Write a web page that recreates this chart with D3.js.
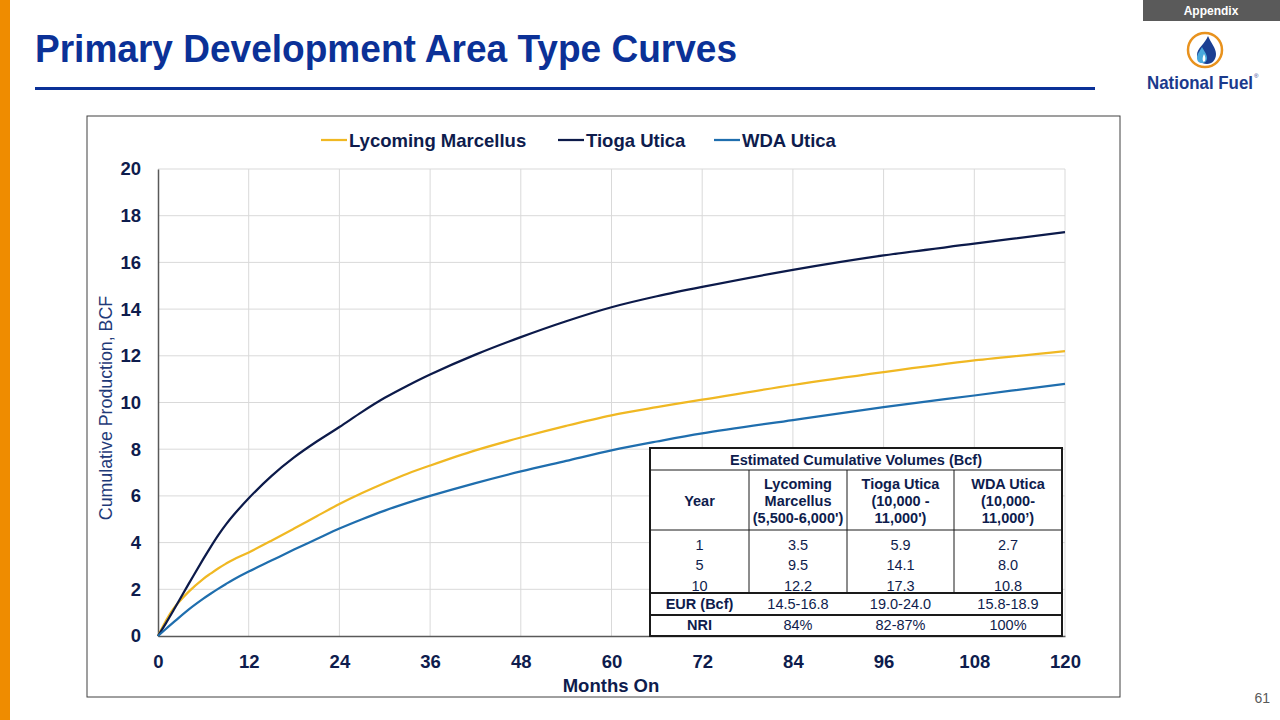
<!DOCTYPE html>
<html lang="en">
  <head>
    <title>Primary Development Area Type Curves</title>
    <script src="https://d3js.org/d3.v7.min.js"></script>
    <style>
      body { margin: 0; background: #fff; }
      svg { font-family: "Liberation Sans", Arial, sans-serif; display: block; }
      .grid line { stroke: #d9d9d9; stroke-width: 1; }
      .tick-label { font-size: 18.5px; font-weight: bold; fill: #0e1c4d; }
    </style>
  </head>
  <body>
    <svg width="1280" height="720"></svg>

    <script>
      // series data (months on, cumulative Bcf)
      var months    = [0, 1, 2, 4, 6, 7, 8, 9, 10, 12, 15, 18, 21, 24, 27, 30, 33, 36, 42, 48, 54, 60, 66, 72, 84, 96, 108, 120];
      var lycoming  = [0, 0.62, 1.15, 1.88, 2.45, 2.68, 2.9, 3.1, 3.28, 3.58, 4.08, 4.6, 5.13, 5.65, 6.12, 6.55, 6.95, 7.3, 7.95, 8.5, 9.0, 9.45, 9.8, 10.12, 10.75, 11.3, 11.8, 12.2];
      var tioga     = [0, 0.52, 1.07, 2.2, 3.3, 3.83, 4.33, 4.78, 5.18, 5.9, 6.85, 7.65, 8.33, 8.95, 9.6, 10.2, 10.72, 11.2, 12.05, 12.8, 13.48, 14.08, 14.55, 14.95, 15.68, 16.3, 16.8, 17.3];
      var wda       = [0, 0.29, 0.57, 1.12, 1.6, 1.82, 2.03, 2.23, 2.42, 2.76, 3.23, 3.7, 4.15, 4.6, 5.0, 5.37, 5.7, 6.0, 6.55, 7.05, 7.5, 7.95, 8.33, 8.68, 9.25, 9.8, 10.3, 10.8];

      var seriesNames  = ["Lycoming Marcellus", "Tioga Utica", "WDA Utica"];
      var seriesColors = ["#f0b823", "#0c1a4a", "#1f6eae"];
      var seriesValues = [lycoming, tioga, wda];

      var xTicks = [0, 12, 24, 36, 48, 60, 72, 84, 96, 108, 120];
      var yTicks = [0, 2, 4, 6, 8, 10, 12, 14, 16, 18, 20];

      // table contents
      var tableTitle   = "Estimated Cumulative Volumes (Bcf)";
      var tableHeader  = [["Year"], ["Lycoming", "Marcellus", "(5,500-6,000')"], ["Tioga Utica", "(10,000 -", "11,000')"], ["WDA Utica", "(10,000-", "11,000\u2019)"]];
      var tableYears   = ["1", "5", "10"];
      var tableLyc     = ["3.5", "9.5", "12.2"];
      var tableTioga   = ["5.9", "14.1", "17.3"];
      var tableWda     = ["2.7", "8.0", "10.8"];
      var eurRow       = ["EUR (Bcf)", "14.5-16.8", "19.0-24.0", "15.8-18.9"];
      var nriRow       = ["NRI", "84%", "82-87%", "100%"];

      var svg = d3.select("svg");
      var navy = "#0e1c4d";

      // ---- slide furniture ----
      svg.append("rect").attr("x", 0).attr("y", 0).attr("width", 10).attr("height", 720).attr("fill", "#ef8c00");

      svg.append("text").attr("x", 35).attr("y", 62)
         .attr("font-size", 38).attr("font-weight", "bold").attr("fill", "#0b3197")
         .attr("textLength", 702).attr("lengthAdjust", "spacingAndGlyphs")
         .text("Primary Development Area Type Curves");
      svg.append("rect").attr("x", 35).attr("y", 87).attr("width", 1060).attr("height", 3).attr("fill", "#0b3197");

      svg.append("rect").attr("x", 1143).attr("y", 0).attr("width", 137).attr("height", 21).attr("fill", "#5a5a5a");
      svg.append("text").attr("x", 1211).attr("y", 15).attr("text-anchor", "middle")
         .attr("font-size", 12).attr("font-weight", "bold").attr("fill", "#fff").text("Appendix");

      // logo
      var logo = svg.append("g").attr("transform", "translate(1205,50)");
      logo.append("circle").attr("r", 17).attr("fill", "#fff").attr("stroke", "#e8921e").attr("stroke-width", 2.5);
      logo.append("path").attr("fill", "#1b3f93")
          .attr("d", "M3,-14 C6,-7 11,-2 11,4 C11,10 7,14 2,14 C-4,14 -8,10 -8,5 C-8,-2 0,-6 3,-14 Z");
      logo.append("path").attr("fill", "#4aa8dc")
          .attr("d", "M-3,-3 C-1,1 2,4 2,8 C2,11 0,13 -3,13 C-6,13 -8,11 -8,8 C-8,4 -5,1 -3,-3 Z");
      logo.append("path").attr("fill", "#fff")
          .attr("d", "M-1,4 C0,6 1,8 0,11 C-1,12 -2,12 -2,11 C-3,9 -2,6 -1,4 Z");
      var brand = svg.append("text").attr("x", 1147).attr("y", 89)
         .attr("font-size", 19).attr("font-weight", "bold").attr("fill", "#1b3a8c");
      brand.append("tspan").attr("textLength", 106).attr("lengthAdjust", "spacingAndGlyphs").text("National Fuel");
      brand.append("tspan").attr("font-size", 6).attr("font-weight", "normal").attr("dx", 1).attr("dy", -11).text("\u00ae");

      svg.append("text").attr("x", 1270).attr("y", 703).attr("text-anchor", "end")
         .attr("font-size", 14).attr("fill", "#595959").text("61");

      // chart frame
      svg.append("rect").attr("x", 87).attr("y", 116).attr("width", 1033).attr("height", 581)
         .attr("fill", "#fff").attr("stroke", "#404040").attr("stroke-width", 1);

      // ---- scales ----
      var x = d3.scaleLinear().domain([0, 120]).range([158, 1065]);
      var y = d3.scaleLinear().domain([0, 20]).range([636, 169]);

      var grid = svg.append("g").attr("class", "grid");
      grid.selectAll("line.h").data(yTicks.slice(1)).enter().append("line")
          .attr("x1", x(0)).attr("x2", x(120))
          .attr("y1", function(d){ return y(d); }).attr("y2", function(d){ return y(d); });
      grid.selectAll("line.v").data(xTicks.slice(1)).enter().append("line")
          .attr("y1", y(0)).attr("y2", y(20))
          .attr("x1", function(d){ return x(d); }).attr("x2", function(d){ return x(d); });

      // axes with d3 axis generators, then restyled
      var xAxis = svg.append("g").attr("transform", "translate(0," + y(0) + ")")
          .call(d3.axisBottom(x).tickValues(xTicks).tickSize(0).tickPadding(19));
      xAxis.select(".domain").attr("stroke", "#595959").attr("stroke-width", 1.5);
      xAxis.selectAll("text").attr("class", "tick-label").attr("font-family", null).attr("font-size", null);

      var yAxis = svg.append("g").attr("transform", "translate(" + x(0) + ",0)")
          .call(d3.axisLeft(y).tickValues(yTicks).tickSize(0).tickPadding(17));
      yAxis.select(".domain").attr("stroke", "#595959").attr("stroke-width", 1.5);
      yAxis.selectAll("text").attr("class", "tick-label").attr("font-family", null).attr("font-size", null);

      svg.append("text").attr("x", 611).attr("y", 692).attr("text-anchor", "middle")
         .attr("font-size", 18.5).attr("font-weight", "bold").attr("fill", navy).text("Months On");
      svg.append("text").attr("transform", "translate(112,408) rotate(-90)").attr("text-anchor", "middle")
         .attr("font-size", 17.8).attr("fill", "#1f3a78").text("Cumulative Production, BCF");

      // ---- lines ----
      var line = d3.line()
          .x(function(d){ return x(d[0]); })
          .y(function(d){ return y(d[1]); })
          .curve(d3.curveCatmullRom.alpha(0.5));

      svg.append("g").selectAll("path").data(seriesValues).enter().append("path")
         .attr("fill", "none")
         .attr("stroke", function(d, i){ return seriesColors[i]; })
         .attr("stroke-width", 2.25)
         .attr("d", function(vals){ return line(months.map(function(m, j){ return [m, vals[j]]; })); });

      // ---- legend ----
      var legendX = [321, 558, 714];
      var legend = svg.append("g").selectAll("g").data(seriesNames).enter().append("g")
          .attr("transform", function(d, i){ return "translate(" + legendX[i] + ",140)"; });
      legend.append("line").attr("x1", 0).attr("x2", 26).attr("y1", 0).attr("y2", 0)
          .attr("stroke", function(d, i){ return seriesColors[i]; }).attr("stroke-width", 2.25);
      legend.append("text").attr("x", 28).attr("y", 6.5)
          .attr("font-size", 18.5).attr("font-weight", "bold").attr("fill", navy)
          .text(function(d){ return d; });

      // ---- table ----
      var colX = [650, 749, 847, 954, 1062];
      var rowY = [448, 470, 530, 593, 615, 636];
      var tb = svg.append("g").attr("fill", navy).attr("font-size", 14.5);
      tb.append("rect").attr("x", colX[0]).attr("y", rowY[0]).attr("width", colX[4] - colX[0])
        .attr("height", rowY[5] - rowY[0]).attr("fill", "#fff");

      function cx(i){ return (colX[i] + colX[i + 1]) / 2; }

      tb.append("text").attr("x", (colX[0] + colX[4]) / 2).attr("y", 465).attr("text-anchor", "middle")
        .attr("font-weight", "bold").text(tableTitle);

      tableHeader.forEach(function(lines, i){
        var t = tb.append("text").attr("x", cx(i)).attr("text-anchor", "middle").attr("font-weight", "bold");
        var start = lines.length === 1 ? 506 : 489;
        lines.forEach(function(s, k){
          t.append("tspan").attr("x", cx(i)).attr("y", start + k * 17).text(s);
        });
      });

      var bodyCols = [tableYears, tableLyc, tableTioga, tableWda];
      var bodyY = [550, 570, 591];
      bodyCols.forEach(function(col, i){
        tb.selectAll(null).data(col).enter().append("text")
          .attr("x", cx(i)).attr("y", function(d, k){ return bodyY[k]; })
          .attr("text-anchor", "middle").text(function(d){ return d; });
      });
      [eurRow, nriRow].forEach(function(row, r){
        row.forEach(function(s, i){
          tb.append("text").attr("x", cx(i)).attr("y", r === 0 ? 609 : 630).attr("text-anchor", "middle")
            .attr("font-weight", i === 0 ? "bold" : null).text(s);
        });
      });

      // table rules
      var rules = tb.append("g").attr("stroke", "#1a1a1a");
      rules.append("rect").attr("x", colX[0]).attr("y", rowY[0]).attr("width", colX[4] - colX[0])
        .attr("height", rowY[5] - rowY[0]).attr("fill", "none").attr("stroke-width", 2);
      [rowY[1], rowY[2]].forEach(function(yy){
        rules.append("line").attr("x1", colX[0]).attr("x2", colX[4]).attr("y1", yy).attr("y2", yy).attr("stroke-width", 1);
      });
      [rowY[3], rowY[4]].forEach(function(yy){
        rules.append("line").attr("x1", colX[0]).attr("x2", colX[4]).attr("y1", yy).attr("y2", yy).attr("stroke-width", 2);
      });
      [colX[1], colX[2], colX[3]].forEach(function(xx){
        rules.append("line").attr("x1", xx).attr("x2", xx).attr("y1", rowY[1]).attr("y2", rowY[3]).attr("stroke-width", 1);
      });
    </script>
  </body>
</html>
